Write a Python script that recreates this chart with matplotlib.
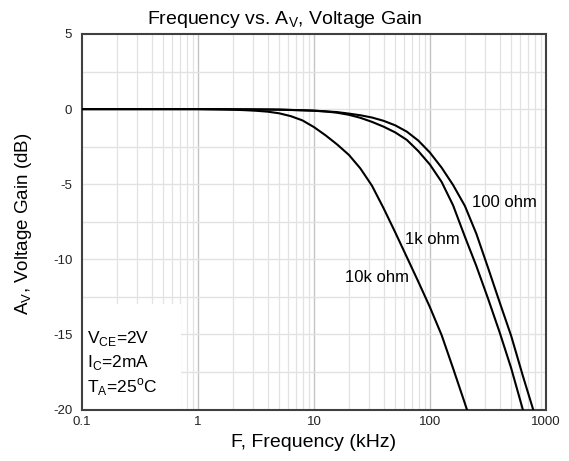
import matplotlib
matplotlib.use("Agg")
import matplotlib.pyplot as plt
from matplotlib.ticker import FixedLocator, NullFormatter

plt.rcParams['font.family'] = ['Liberation Sans', 'DejaVu Sans']
plt.rcParams['axes.unicode_minus'] = False

# ---- data ----
freq_10k = [0.1, 1.0, 1.58, 2.0, 2.51, 3.16, 3.98, 5.01, 6.31, 7.94, 10.0, 12.6, 15.8, 20.0, 25.1, 31.6,
            39.8, 50.1, 63.1, 79.4, 100, 126, 158, 200, 208]
gain_10k = [0, 0, -0.02, -0.04, -0.07, -0.11, -0.17, -0.28, -0.47, -0.75, -1.2, -1.75, -2.35, -3.05, -3.95, -5.1,
            -6.6, -8.2, -9.85, -11.5, -13.2, -15.05, -17.25, -19.6, -20.0]

freq_1k = [0.1, 1.0, 2.0, 3.16, 5.01, 7.94, 10.0, 12.6, 15.8, 20.0, 25.1, 31.6, 39.8, 50.1, 63.1, 79.4,
           100, 126, 158, 200, 251, 316, 398, 501, 631]
gain_1k = [0, 0, -0.01, -0.02, -0.04, -0.08, -0.11, -0.16, -0.24, -0.38, -0.58, -0.85, -1.17, -1.55, -2.05, -2.8,
           -3.7, -4.85, -6.4, -8.5, -10.45, -12.6, -14.85, -17.25, -20.0]

freq_100 = [0.1, 1.0, 5.01, 10.0, 15.8, 20.0, 25.1, 31.6, 39.8, 50.1, 63.1, 79.4, 100, 126, 158, 200,
            251, 316, 398, 501, 631, 775]
gain_100 = [0, 0, -0.03, -0.1, -0.2, -0.3, -0.41, -0.56, -0.78, -1.08, -1.5, -2.1, -2.9, -3.9, -5.05, -6.45,
            -8.3, -10.55, -12.85, -15.1, -17.75, -20.0]

x_ticks = [0.1, 1, 10, 100, 1000]
x_ticklabels = ['0.1', '1', '10', '100', '1000']
y_ticks = [5, 0, -5, -10, -15, -20]

title = 'Frequency vs. A$_\\mathregular{V}$, Voltage Gain'
xlabel = 'F, Frequency (kHz)'
ylabel = 'A$_\\mathregular{V}$, Voltage Gain (dB)'
cond_lines = ['V$_\\mathregular{CE}$=2V', 'I$_\\mathregular{C}$=2mA', 'T$_\\mathregular{A}$=25$^\\mathregular{o}$C']

W, H = 569, 461
fig = plt.figure(figsize=(W / 100, H / 100), dpi=100)
ax = fig.add_axes([82 / W, 1 - 409.5 / H, (546 - 82) / W, (409.5 - 34) / H])

ax.set_xscale('log')
ax.set_xlim(0.1, 1000)
ax.set_ylim(-20, 5)

# grid
minor_x = [m * 10.0 ** e for e in range(-1, 3) for m in range(2, 10)]
for xv in minor_x:
    ax.axvline(xv, color='#e2e2e2', lw=0.9, zorder=0)
for xv in x_ticks[1:-1]:
    ax.axvline(xv, color='#c4c4c4', lw=1.0, zorder=0)
for yv in [2.5, 0, -2.5, -5, -7.5, -10, -12.5, -15, -17.5]:
    ax.axhline(yv, color='#e2e2e2', lw=1.0, zorder=0)

ax.plot(freq_100, gain_100, color='black', lw=1.5, zorder=3, solid_joinstyle='round')
ax.plot(freq_1k, gain_1k, color='black', lw=1.5, zorder=3, solid_joinstyle='round')
ax.plot(freq_10k, gain_10k, color='black', lw=1.5, zorder=3, solid_joinstyle='round')

# curve labels
ax.text(230, -6.2, '100 ohm', fontsize=12, ha='left', va='center', zorder=4)
ax.text(60.8, -8.7, '1k ohm', fontsize=12, ha='left', va='center', zorder=4)
ax.text(18.5, -11.2, '10k ohm', fontsize=12, ha='left', va='center', zorder=4)

# conditions box (white, covering grid)
ax.add_patch(plt.Rectangle((0.1, -20), 0.62, 7.0, transform=ax.transData,
                           facecolor='white', edgecolor='none', zorder=1))
ax.text(0.111, -15.55, cond_lines[0], fontsize=12.5, ha='left', va='baseline', zorder=4)
ax.text(0.111, -17.15, cond_lines[1], fontsize=12.5, ha='left', va='baseline', zorder=4)
ax.text(0.111, -18.85, cond_lines[2], fontsize=12.5, ha='left', va='baseline', zorder=4)

ax.xaxis.set_major_locator(FixedLocator(x_ticks))
ax.set_xticklabels(x_ticklabels)
ax.xaxis.set_minor_locator(FixedLocator(minor_x))
ax.xaxis.set_minor_formatter(NullFormatter())
ax.set_yticks(y_ticks)
ax.tick_params(axis='both', which='both', length=0, labelsize=9.5, colors='#222222')
ax.tick_params(axis='x', pad=5)
ax.tick_params(axis='y', pad=7)

for s in ax.spines.values():
    s.set_color('#404040')
    s.set_linewidth(1.5)

fig.text(0.5, 1 - 20 / H, title, fontsize=14, ha='center', va='center')
ax.set_xlabel(xlabel, fontsize=14, labelpad=4)
fig.text(24 / W, 1 - 224 / H, ylabel, fontsize=13.5, rotation=90, ha='center', va='center')

fig.savefig('out.png', dpi=100)
